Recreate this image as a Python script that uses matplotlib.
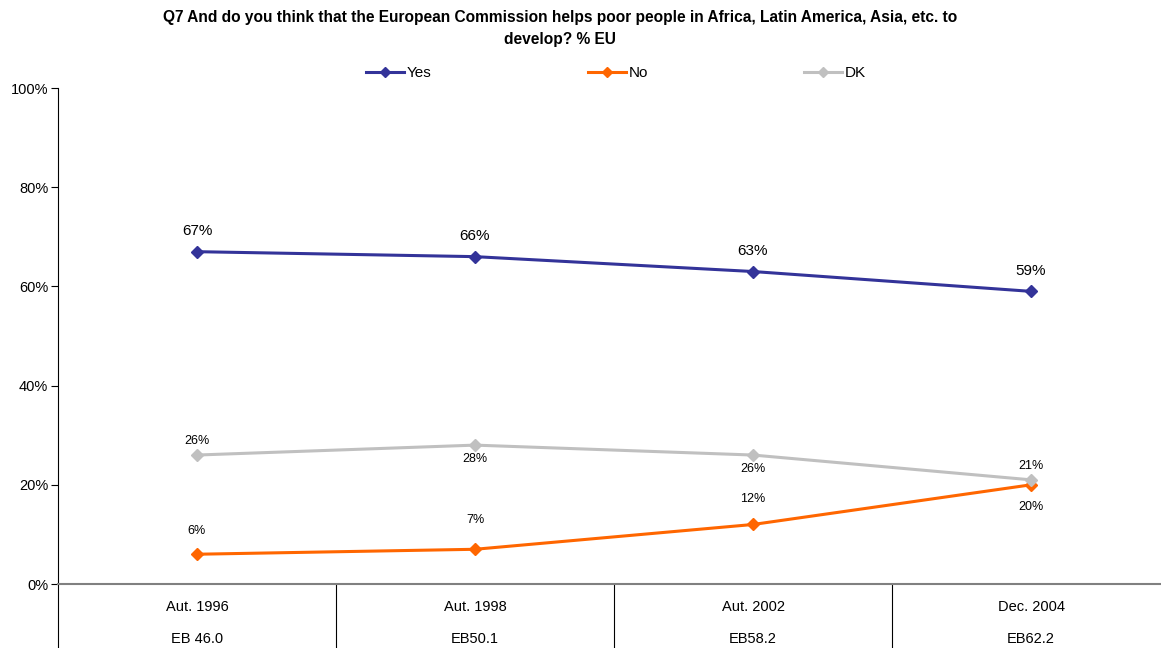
import matplotlib
matplotlib.use("Agg")
from matplotlib import pyplot as plt

plt.rcParams['font.family'] = ['Liberation Sans', 'DejaVu Sans']

waves = ["Aut. 1996", "Aut. 1998", "Aut. 2002", "Dec. 2004"]
surveys = ["EB 46.0", "EB50.1", "EB58.2", "EB62.2"]
yes = [67, 66, 63, 59]
no = [6, 7, 12, 20]
dk = [26, 28, 26, 21]

title = ("Q7 And do you think that the European Commission helps poor people in Africa, Latin America, Asia, etc. to\n"
         "develop? % EU")

W, H = 1161, 648
fig = plt.figure(figsize=(W / 100, H / 100), dpi=100)
# axes runs a bit past the right edge, like the original
ax = fig.add_axes([58 / W, (H - 584) / H, (1170 - 58) / W, (584 - 88) / H])

x = list(range(len(waves)))
ax.plot(x, yes, color="#333399", lw=2.2, marker="D", ms=6, label="Yes")
ax.plot(x, no, color="#FF6600", lw=2.2, marker="D", ms=6, label="No")
ax.plot(x, dk, color="#C0C0C0", lw=2.2, marker="D", ms=6, label="DK")

# value labels (offset in points: + above, - below)
for i, v in enumerate(yes):
    ax.annotate(f"{v}%", (i, v), xytext=(0, 15), textcoords="offset points",
                ha="center", va="center", fontsize=11)
dk_off = [10, -10, -10, 10]
for i, v in enumerate(dk):
    ax.annotate(f"{v}%", (i, v), xytext=(0, dk_off[i]), textcoords="offset points",
                ha="center", va="center", fontsize=9)
no_off = [17, 21, 18, -16]
for i, v in enumerate(no):
    ax.annotate(f"{v}%", (i, v), xytext=(0, no_off[i]), textcoords="offset points",
                ha="center", va="center", fontsize=9)

ax.set_xlim(-0.5, 3.5)
ax.set_ylim(0, 100)
ax.set_yticks(range(0, 101, 20))
ax.set_yticklabels([f"{t}%" for t in range(0, 101, 20)], fontsize=10.5)
ax.set_xticks([])
ax.tick_params(axis="y", length=5, width=0.8, pad=2)
for s in ["top", "right"]:
    ax.spines[s].set_visible(False)
ax.spines["bottom"].set_color("#808080")
ax.spines["bottom"].set_linewidth(1.5)
ax.spines["left"].set_linewidth(0.8)

# category table under the plot
tr = ax.get_xaxis_transform()
for b in [-0.5, 0.5, 1.5, 2.5]:
    ax.plot([b, b], [0, -0.14], color="black", lw=0.8, transform=tr, clip_on=False)
for i in x:
    ax.text(i, -0.046, waves[i], transform=tr, ha="center", va="center", fontsize=10.5)
    ax.text(i, -0.11, surveys[i], transform=tr, ha="center", va="center", fontsize=10.5)

ax.legend(loc="center", bbox_to_anchor=(616 / W, (H - 73) / H), bbox_transform=fig.transFigure,
          ncol=3, frameon=False, fontsize=11, handlelength=2.5, handletextpad=0.2,
          columnspacing=10.2, markerscale=0.9)

fig.text(560 / W, (H - 10) / H, title, ha="center", va="top", fontsize=11.2,
         fontweight="bold", linespacing=1.55)

fig.savefig("out.png", dpi=100)
